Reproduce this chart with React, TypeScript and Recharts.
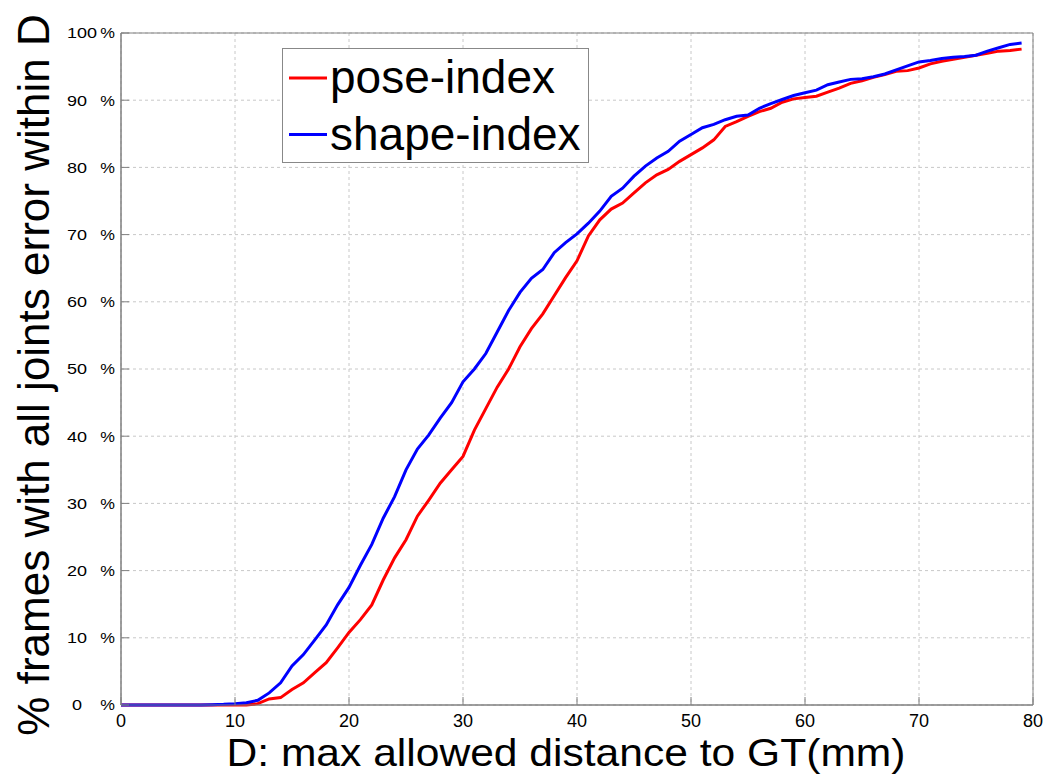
import { LineChart, Line, XAxis, YAxis, CartesianGrid, Legend, ReferenceArea } from 'recharts'

const FONT = '"Liberation Sans", Arial, Helvetica, sans-serif'

// D (mm)
const distances = Array.from({ length: 80 }, (_, i) => i)

const poseIndex = [
  0, 0, 0, 0, 0, 0, 0, 0, 0, 0,
  0, 0, 0.2, 0.9, 1.1, 2.3, 3.3, 4.8, 6.3, 8.5,
  10.8, 12.7, 14.9, 18.6, 21.9, 24.6, 28.1, 30.5, 33.0, 35.0,
  37.0, 40.9, 44.1, 47.3, 50.0, 53.3, 56.0, 58.2, 60.9, 63.6,
  66.1, 69.8, 72.2, 73.8, 74.7, 76.2, 77.7, 78.9, 79.7, 80.9,
  81.9, 82.9, 84.1, 86.1, 86.8, 87.6, 88.3, 88.8, 89.7, 90.2,
  90.4, 90.6, 91.2, 91.8, 92.5, 92.9, 93.4, 93.8, 94.3, 94.4,
  94.8, 95.4, 95.8, 96.1, 96.4, 96.7, 97.0, 97.3, 97.4, 97.6,
]

const shapeIndex = [
  0, 0, 0, 0, 0, 0, 0, 0, 0.05, 0.1,
  0.2, 0.35, 0.7, 1.8, 3.3, 5.8, 7.5, 9.7, 11.9, 14.9,
  17.5, 20.8, 23.9, 27.8, 31.0, 35.0, 38.1, 40.2, 42.7, 45.0,
  48.1, 50.0, 52.3, 55.5, 58.7, 61.4, 63.5, 64.8, 67.3, 68.8,
  70.1, 71.7, 73.5, 75.7, 76.9, 78.7, 80.2, 81.4, 82.4, 83.9,
  84.9, 85.9, 86.4, 87.1, 87.6, 87.8, 88.8, 89.5, 90.1, 90.7,
  91.1, 91.5, 92.3, 92.7, 93.1, 93.2, 93.5, 93.9, 94.5, 95.1,
  95.7, 95.9, 96.2, 96.4, 96.5, 96.7, 97.3, 97.8, 98.3, 98.5,
]

const xTicks = [0, 10, 20, 30, 40, 50, 60, 70, 80]
const yTicks = [0, 10, 20, 30, 40, 50, 60, 70, 80, 90, 100]

const data = distances.map((d, i) => ({ d, pose: poseIndex[i], shape: shapeIndex[i] }))

const TICK_IN = 8

const XTick = ({ x, y, payload }: any) => (
  <text x={x} y={y + TICK_IN} dy={22} textAnchor="middle" fontSize={18} fill="#000" fontFamily={FONT}>
    {payload.value}
  </text>
)

const YTick = ({ x, y, payload }: any) => {
  const v = payload.value
  return (
    <g transform={`translate(${x - TICK_IN},${y})`} fontFamily={FONT} fontSize={15} fill="#000">
      <text transform={`translate(${v === 100 ? -24 : -44},0) scale(1.2,1)`} dy="0.36em"
        textAnchor={v === 100 ? 'end' : 'middle'}>{v}</text>
      <text transform="translate(-6,0) scale(1.1,1)" dy="0.36em" textAnchor="end">%</text>
    </g>
  )
}

const NoTick = () => <g />

const renderLegend = ({ payload }: any) => (
  <svg width={307} height={115} style={{ display: 'block' }}>
    <rect x={0.5} y={0.5} width={306} height={114} fill="#fff" stroke="#888" />
    {(payload || []).map((p: any, i: number) => (
      <g key={p.value} transform={`translate(0,${i * 56.5})`}>
        <line x1={7} x2={45} y1={30} y2={30} stroke={p.color} strokeWidth={3} />
        <text x={48} y={45} fontSize={46} fontFamily={FONT} fill="#000">{p.value}</text>
      </g>
    ))}
  </svg>
)

export default function App() {
  return (
    <div style={{ position: 'absolute', left: 0, top: 0, background: '#fff' }}>
      <LineChart width={1048} height={775} data={data} margin={{ top: 33, right: 15, bottom: 0, left: 0 }}>
        <CartesianGrid stroke="#c8c8c8" strokeDasharray="3 3" />
        <XAxis dataKey="d" type="number" domain={[0, 80]} ticks={xTicks} height={70}
          tickSize={-TICK_IN} tickMargin={0} tickLine={{ stroke: '#808080' }} stroke="#808080" tick={<XTick />}
          label={{
            content: ({ viewBox }: any) => (
              <text x={viewBox.x + viewBox.width / 2 - 11} y={viewBox.y + 61} textAnchor="middle"
                fontSize={39} textLength={679} lengthAdjust="spacingAndGlyphs"
                fontFamily={FONT} fill="#000">D: max allowed distance to GT(mm)</text>
            ),
          }} />
        <XAxis xAxisId="top" orientation="top" type="number" domain={[0, 80]} ticks={xTicks} height={0}
          tickSize={-TICK_IN} tickLine={{ stroke: '#808080' }} axisLine={false} tick={<NoTick />} />
        <YAxis type="number" domain={[0, 100]} ticks={yTicks} width={121}
          tickSize={-TICK_IN} tickMargin={0} tickLine={{ stroke: '#808080' }} stroke="#808080" tick={<YTick />}
          label={{
            content: ({ viewBox }: any) => {
              const cy = viewBox.y + viewBox.height / 2 + 6
              return (
                <text x={49} y={cy} transform={`rotate(-90, 49, ${cy})`} textAnchor="middle"
                  fontSize={44} fontFamily={FONT} fill="#000">% frames with all joints error within D</text>
              )
            },
          }} />
        <YAxis yAxisId="right" orientation="right" type="number" domain={[0, 100]} ticks={yTicks} width={0}
          tickSize={-TICK_IN} tickLine={{ stroke: '#808080' }} axisLine={false} tick={<NoTick />} />
        <ReferenceArea x1={0} x2={80} y1={0} y2={100} fill="none" stroke="#808080" strokeWidth={1} ifOverflow="visible" />
        <Legend layout="horizontal" verticalAlign="middle" align="center" content={renderLegend}
          wrapperStyle={{ left: 282, top: 48, width: 307, height: 115 }} />
        <Line type="linear" dataKey="pose" name="pose-index" stroke="#ff0000" strokeWidth={3} dot={false} isAnimationActive={false} />
        <Line type="linear" dataKey="shape" name="shape-index" stroke="#0000ff" strokeWidth={3} dot={false} isAnimationActive={false} />
      </LineChart>
    </div>
  )
}
